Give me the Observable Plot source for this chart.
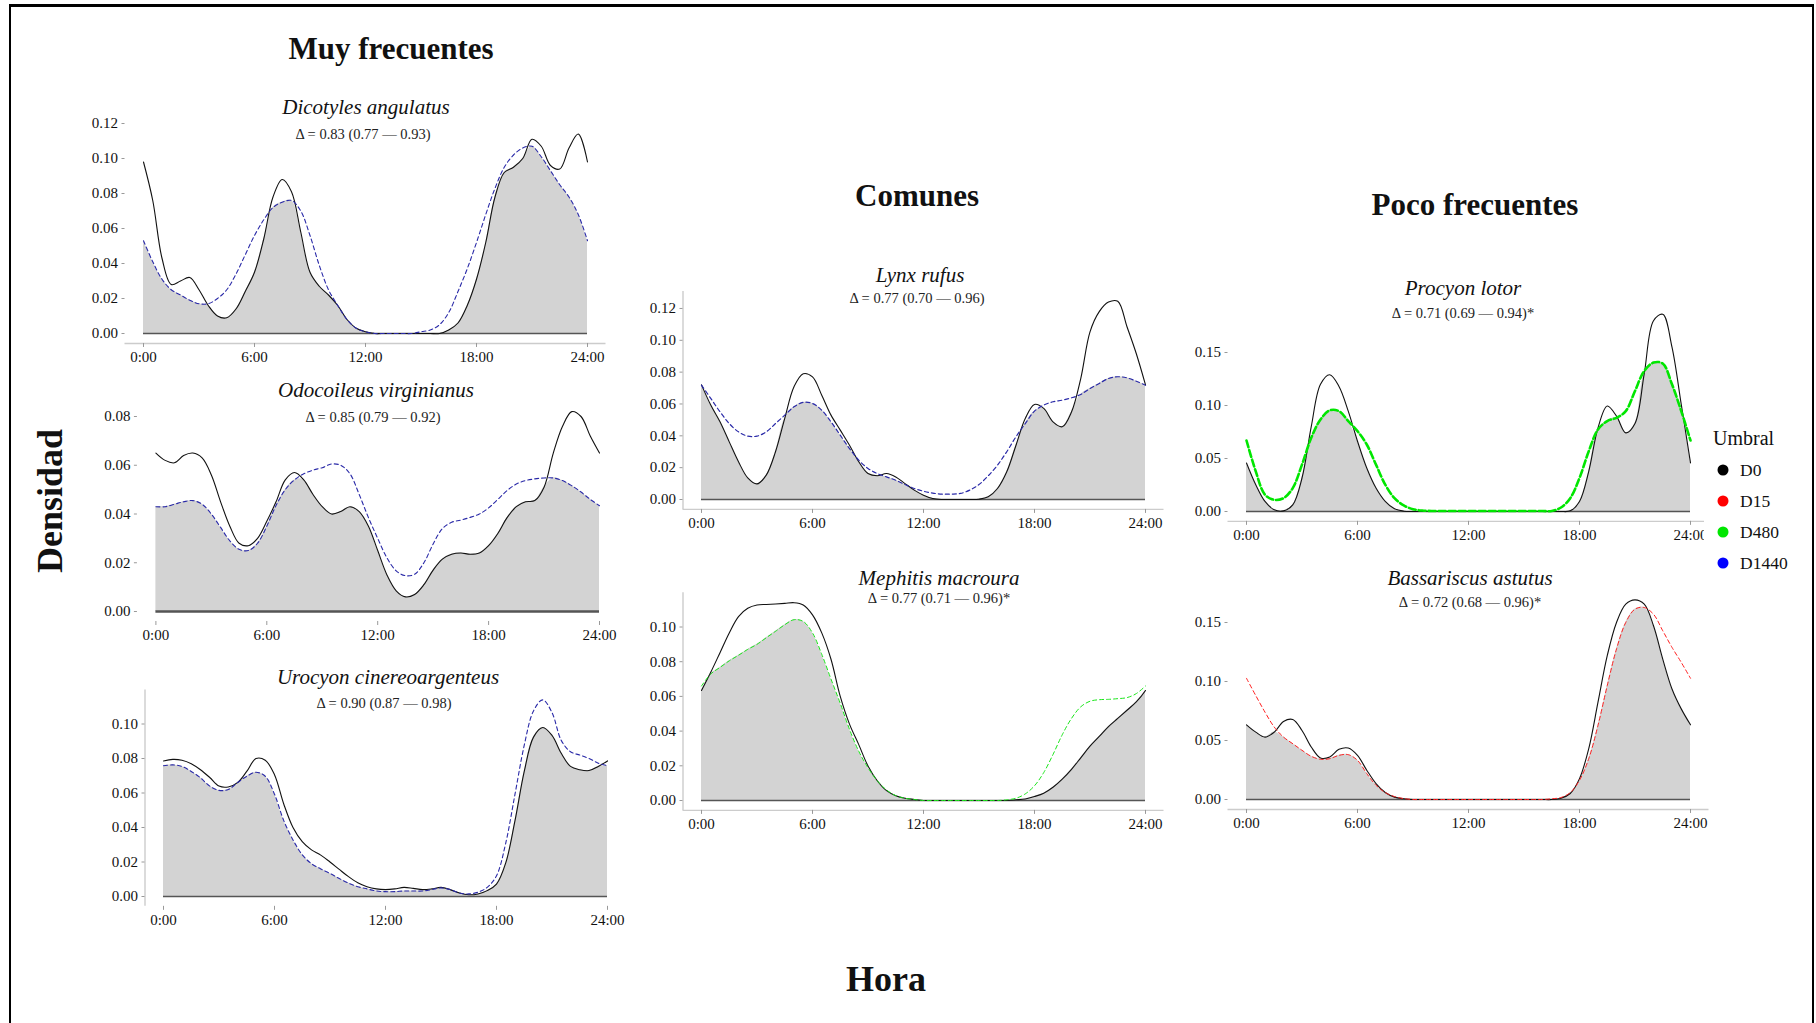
<!DOCTYPE html>
<html><head><meta charset="utf-8">
<script src="https://cdn.jsdelivr.net/npm/d3@7"></script>
<script src="https://cdn.jsdelivr.net/npm/@observablehq/plot@0.6"></script>
<style>
body{margin:0;background:#fff;}
#page{position:relative;width:1816px;height:1023px;overflow:hidden;background:#fff;font-family:"Liberation Serif",serif;color:#111;}
#frame{position:absolute;left:9px;top:4px;width:1805px;height:1100px;border-top:3px solid #000;border-left:2px solid #000;border-right:2px solid #000;box-sizing:border-box;}
.lbl{position:absolute;transform:translate(-50%,-50%);white-space:nowrap;}
.head{font-weight:bold;font-size:31px;}
.axt{font-weight:bold;font-size:36px;}
.ttl{font-style:italic;font-size:21px;}
.sub{font-size:14.5px;color:#222;}
.panel{position:absolute;left:0;top:0;}
#legend{position:absolute;left:1704px;top:418px;width:104px;height:165px;background:#fff;}
.lg{position:absolute;font-size:17.5px;transform:translateY(-50%);}
.dot{position:absolute;width:11px;height:11px;border-radius:50%;transform:translate(-50%,-50%);}
</style></head>
<body><div id="page"><div id="frame"></div></div>
<script>
// ---- data ----
const hours = [0,0.5,1,1.5,2,2.5,3,3.5,4,4.5,5,5.5,6,6.5,7,7.5,8,8.5,9,9.5,10,10.5,11,11.5,12,12.5,13,13.5,14,14.5,15,15.5,16,16.5,17,17.5,18,18.5,19,19.5,20,20.5,21,21.5,22,22.5,23,23.5,24];
const xTicks = [0,6,12,18,24];
const xTickLabels = ["0:00","6:00","12:00","18:00","24:00"];

const dicotylesD0 = [0.098,0.076,0.043,0.028,0.030,0.032,0.025,0.016,0.010,0.009,
 0.014,0.024,0.035,0.054,0.078,0.088,0.081,0.058,0.035,0.027,
 0.022,0.016,0.008,0.003,0.001,0,0,0,0,0,
 0,0,0,0.002,0.006,0.016,0.031,0.052,0.078,0.092,
 0.095,0.100,0.111,0.107,0.096,0.094,0.106,0.114,0.098];
const dicotylesD1440 = [0.053,0.041,0.031,0.025,0.022,0.019,0.017,0.017,0.020,0.025,
 0.034,0.045,0.056,0.065,0.072,0.075,0.076,0.070,0.056,0.039,
 0.025,0.016,0.008,0.003,0.001,0,0,0,0,0,
 0.001,0.002,0.005,0.012,0.024,0.037,0.052,0.068,0.083,0.095,
 0.102,0.106,0.107,0.101,0.093,0.085,0.078,0.068,0.053];

const odocoileusD0 = [0.065,0.062,0.061,0.064,0.065,0.063,0.056,0.045,0.035,0.028,
 0.027,0.030,0.037,0.045,0.054,0.057,0.054,0.048,0.043,0.040,
 0.041,0.043,0.041,0.035,0.025,0.015,0.0085,0.006,0.007,0.011,
 0.017,0.0215,0.0235,0.024,0.0235,0.024,0.027,0.032,0.0385,0.043,
 0.045,0.0455,0.051,0.065,0.076,0.082,0.080,0.072,0.065];
const odocoileusD1440 = [0.043,0.043,0.044,0.045,0.0455,0.044,0.040,0.0345,0.029,0.0255,
 0.025,0.028,0.035,0.0435,0.050,0.054,0.0565,0.058,0.059,0.0605,
 0.060,0.0565,0.048,0.0385,0.030,0.022,0.0167,0.0147,0.0153,0.020,
 0.0277,0.034,0.0366,0.0375,0.0386,0.040,0.0425,0.046,0.0496,0.0523,
 0.0537,0.0544,0.0548,0.0548,0.0537,0.0516,0.049,0.046,0.0434];

const urocyonD0 = [0.0786,0.0795,0.079,0.077,0.0735,0.069,0.064,0.0635,0.066,0.0725,
 0.080,0.079,0.0706,0.0536,0.040,0.0318,0.027,0.024,0.020,0.0157,
 0.0115,0.008,0.0057,0.0044,0.004,0.0044,0.0053,0.0047,0.004,0.0044,
 0.0053,0.004,0.002,0.001,0.0015,0.0034,0.0072,0.0195,0.044,0.0725,
 0.0924,0.098,0.0934,0.083,0.0754,0.0735,0.073,0.0754,0.0786];
const urocyonD1440 = [0.0758,0.0763,0.0754,0.0725,0.0688,0.064,0.0615,0.062,0.066,0.0697,
 0.072,0.0697,0.0593,0.044,0.0328,0.0242,0.019,0.016,0.0134,0.0104,
 0.0078,0.0057,0.0044,0.0032,0.0028,0.0028,0.0032,0.0032,0.0032,0.004,
 0.005,0.004,0.002,0.0015,0.0025,0.0053,0.012,0.031,0.0593,0.0877,
 0.1076,0.114,0.1066,0.0905,0.0839,0.082,0.080,0.0773,0.0758];

const lynxD0 = [0.072,0.0593,0.0488,0.0362,0.0237,0.0136,0.0098,0.0153,0.030,0.051,
 0.0708,0.079,0.077,0.0655,0.053,0.0436,0.0341,0.0237,0.0163,0.0149,
 0.0163,0.0142,0.010,0.0059,0.0027,0.0006,0,0,0,0,
 0.0002,0.0017,0.0069,0.0174,0.0341,0.0509,0.0597,0.0572,0.0488,0.0457,
 0.055,0.076,0.1053,0.118,0.124,0.1245,0.1085,0.0917,0.072];
const lynxD1440 = [0.0718,0.0635,0.0551,0.0477,0.0425,0.0398,0.0398,0.0425,0.0477,0.053,
 0.0582,0.061,0.0603,0.0561,0.0488,0.0404,0.032,0.0247,0.0195,0.0163,
 0.0142,0.0121,0.0094,0.0069,0.0052,0.004,0.0034,0.0034,0.0038,0.0059,
 0.0094,0.0149,0.0216,0.030,0.0394,0.0477,0.0555,0.0593,0.0614,0.0624,
 0.0639,0.066,0.0697,0.0729,0.076,0.0771,0.0764,0.0743,0.0718];

const mephitisD0 = [0.0634,0.0739,0.0852,0.0966,0.106,0.1108,0.1127,0.113,0.1133,0.1136,
 0.114,0.1127,0.107,0.0966,0.0814,0.060,0.044,0.0322,0.0199,0.0114,
 0.0057,0.0028,0.0013,0.0006,0,0,0,0,0,0,
 0,0,0,0,0.0004,0.0009,0.0023,0.0042,0.0076,0.0123,
 0.018,0.0246,0.0313,0.0369,0.0426,0.0473,0.052,0.0568,0.0634];
const mephitisD480 = [0.066,0.0729,0.0767,0.0805,0.0837,0.0871,0.090,0.0938,0.0975,0.1013,
 0.1042,0.1032,0.0966,0.0843,0.0700,0.056,0.041,0.0284,0.0189,0.0114,
 0.0061,0.0028,0.0013,0.0006,0,0,0,0,0,0,
 0,0,0,0.0004,0.0013,0.0038,0.0085,0.0161,0.0265,0.0379,
 0.0473,0.054,0.0572,0.0581,0.0583,0.0587,0.0593,0.0616,0.066];

const procyonD0 = [0.0458,0.0253,0.0095,0.0016,0.0006,0.0063,0.0316,0.080,0.120,0.129,
 0.118,0.0947,0.0663,0.041,0.0221,0.0095,0.0025,0.0003,0,0,
 0,0,0,0,0,0,0,0,0,0,
 0,0,0,0,0,0.0006,0.0095,0.0379,0.0789,0.0995,
 0.0900,0.0742,0.083,0.130,0.180,0.186,0.155,0.101,0.0458];
const procyonD480 = [0.067,0.0379,0.0158,0.011,0.0126,0.0221,0.0442,0.0695,0.0868,0.0954,
 0.0947,0.0853,0.0758,0.0632,0.0442,0.0253,0.0126,0.0057,0.0022,0.0009,
 0.0005,0.0005,0.0005,0.0005,0.0005,0.0005,0.0005,0.0005,0.0005,0.0005,
 0.0005,0.0005,0.0005,0.0005,0.0038,0.0126,0.0316,0.0568,0.0774,0.0853,
 0.0884,0.0947,0.1137,0.1326,0.1405,0.1396,0.120,0.0947,0.067];

const bassariscusD0 = [0.0633,0.0571,0.0529,0.0571,0.0661,0.0678,0.0585,0.0445,0.0352,0.036,
 0.0425,0.0436,0.0374,0.0248,0.0135,0.0059,0.002,0.0006,0,0,
 0,0,0,0,0,0,0,0,0,0,
 0,0,0,0,0.0011,0.0051,0.0177,0.0431,0.0825,0.1219,
 0.150,0.1655,0.1692,0.1655,0.1472,0.119,0.0937,0.0768,0.0633];
const bassariscusD15 = [0.1027,0.0881,0.074,0.0614,0.0529,0.0473,0.0417,0.0366,0.0341,0.0346,
 0.0374,0.038,0.0332,0.022,0.0121,0.0059,0.0025,0.0008,0,0,
 0,0,0,0,0,0,0,0,0,0,
 0,0,0,0.0006,0.0017,0.0059,0.0163,0.0346,0.0628,0.0965,
 0.1275,0.150,0.1613,0.1627,0.157,0.143,0.1289,0.1162,0.1027];

const yTicks012 = [0,0.02,0.04,0.06,0.08,0.10,0.12];
const yTicks008 = [0,0.02,0.04,0.06,0.08];
const yTicks010 = [0,0.02,0.04,0.06,0.08,0.10];
const yTicks015 = [0,0.05,0.10,0.15];

const speciesNames = ["Dicotyles angulatus","Odocoileus virginianus","Urocyon cinereoargenteus","Lynx rufus","Mephitis macroura","Procyon lotor","Bassariscus astutus"];
const overlapStats = ["Δ = 0.83 (0.77 — 0.93)","Δ = 0.85 (0.79 — 0.92)","Δ = 0.90 (0.87 — 0.98)","Δ = 0.77 (0.70 — 0.96)","Δ = 0.77 (0.71 — 0.96)*","Δ = 0.71 (0.69 — 0.94)*","Δ = 0.72 (0.68 — 0.96)*"];
const groupNames = ["Muy frecuentes","Comunes","Poco frecuentes"];
const thresholds = ["D0","D15","D480","D1440"];
const thresholdColors = ["#000000","#ff0000","#00e600","#0000ff"];

// ---- layout / style (kept apart from data) ----
const BLUE = "#2a2aa8", GREEN = "#19e619", RED = "#ff2020";
const panels = [
 {name:0, d0:dicotylesD0, alt:dicotylesD1440, yTicks:yTicks012, color:BLUE, dash:"4,3", w:1.1, x0:143,x24:587,y0:333,k:1750, xLine:true, yLine:false, base:1.4, t:[366,107], s:[363,134]},
 {name:1, d0:odocoileusD0, alt:odocoileusD1440, yTicks:yTicks008, color:BLUE, dash:"4,3", w:1.1, x0:155.4,x24:599,y0:611,k:2437.5, xLine:false, yLine:false, base:2.6, t:[376,390], s:[373,417]},
 {name:2, d0:urocyonD0, alt:urocyonD1440, yTicks:yTicks010, color:BLUE, dash:"4,3", w:1.1, x0:163,x24:607,y0:896,k:1725, xLine:false, yLine:true, base:1.4, t:[388,677], s:[384,703]},
 {name:3, d0:lynxD0, alt:lynxD1440, yTicks:yTicks012, color:BLUE, dash:"4,3", w:1.2, x0:701,x24:1145,y0:499,k:1592, xLine:true, yLine:true, base:1.4, t:[920,275], s:[917,298]},
 {name:4, d0:mephitisD0, alt:mephitisD480, yTicks:yTicks010, color:GREEN, dash:"4,3", w:1, x0:701,x24:1145,y0:800,k:1735, xLine:true, yLine:true, base:1.4, t:[939,578], s:[939,598]},
 {name:5, d0:procyonD0, alt:procyonD480, yTicks:yTicks015, color:"#00e600", dash:"7,3", w:2.6, x0:1246,x24:1690,y0:511,k:1060, xLine:true, yLine:false, base:1.4, t:[1463,288], s:[1463,313]},
 {name:6, d0:bassariscusD0, alt:bassariscusD15, yTicks:yTicks015, color:RED, dash:"4,3", w:1, x0:1246,x24:1690,y0:799,k:1180, xLine:true, yLine:false, base:1.4, t:[1470,578], s:[1470,602]}
];

const page = document.getElementById("page");
const W = 1816, H = 1023;
const fmtY = d3.format(".2f");

function addLabel(text, x, y, cls, extra){
  const el = document.createElement("div");
  el.className = "lbl " + cls;
  el.textContent = text;
  el.style.left = x + "px"; el.style.top = y + "px";
  if (extra) el.style.transform = extra;
  page.appendChild(el);
  return el;
}

for (const p of panels){
  const rows = hours.map((h,i)=>({h, a:p.d0[i], b:p.alt[i], m:Math.min(p.d0[i], p.alt[i])}));
  const vmax = d3.max(rows, r=>Math.max(r.a, r.b));
  const lo = -0.05*vmax, hi = 1.05*vmax;
  const pxh = (p.x24 - p.x0)/24;
  const svg = Plot.plot({
    width: W, height: H,
    marginLeft: p.x0 - pxh, marginRight: W - (p.x24 + pxh),
    marginTop: p.y0 - hi*p.k, marginBottom: H - (p.y0 - lo*p.k),
    x: {domain: [-1, 25], label: null},
    y: {domain: [lo, hi], label: null},
    style: {background: "transparent", fontFamily: "'Liberation Serif', serif", fontSize: "15px", overflow: "visible"},
    marks: [
      p.xLine ? Plot.ruleY([lo], {stroke: "#cccccc", strokeWidth: 1.4}) : null,
      p.yLine ? Plot.ruleX([-1], {stroke: "#cccccc", strokeWidth: 1.4}) : null,
      Plot.areaY(rows, {x: "h", y: "m", fill: "#d3d3d3", curve: "catmull-rom"}),
      Plot.ruleY([0], {x1: () => hours[0], x2: () => hours[hours.length-1], stroke: "#555", strokeWidth: p.base}),
      Plot.line(rows, {x: "h", y: "a", stroke: "#111", strokeWidth: 1.1, curve: "catmull-rom"}),
      Plot.line(rows, {x: "h", y: "b", stroke: p.color, strokeWidth: p.w, strokeDasharray: p.dash, curve: "catmull-rom"}),
      Plot.axisX({ticks: xTicks, tickFormat: d => xTickLabels[xTicks.indexOf(d)], tickSize: 4, tickPadding: 4, stroke: "#999", fill: "#111", label: null, fontSize: 15}),
      Plot.axisY({ticks: p.yTicks, tickFormat: fmtY, tickSize: 3, tickPadding: 4, stroke: "#999", fill: "#111", label: null, fontSize: 15})
    ]
  });
  svg.classList.add("panel");
  svg.style.position = "absolute"; svg.style.left = "0px"; svg.style.top = "0px";
  page.appendChild(svg);
  addLabel(speciesNames[p.name], p.t[0], p.t[1], "ttl");
  addLabel(overlapStats[p.name], p.s[0], p.s[1], "sub");
}

addLabel(groupNames[0], 391, 49, "head");
addLabel(groupNames[1], 917, 196, "head");
addLabel(groupNames[2], 1475, 205, "head");
addLabel("Densidad", 50, 501, "axt", "translate(-50%,-50%) rotate(-90deg)");
addLabel("Hora", 886, 979, "axt");

// legend
const lg = document.createElement("div");
lg.id = "legend";
page.appendChild(lg);
const ttl = document.createElement("div");
ttl.className = "lg"; ttl.style.left = "9px"; ttl.style.top = "20px"; ttl.style.fontSize = "20px";
ttl.textContent = "Umbral";
lg.appendChild(ttl);
thresholds.forEach((t,i)=>{
  const y = 52 + i*31;
  const d = document.createElement("div");
  d.className = "dot"; d.style.left = "19px"; d.style.top = y + "px"; d.style.background = thresholdColors[i];
  lg.appendChild(d);
  const l = document.createElement("div");
  l.className = "lg"; l.style.left = "36px"; l.style.top = y + "px"; l.textContent = t;
  lg.appendChild(l);
});
</script>
</body></html>
